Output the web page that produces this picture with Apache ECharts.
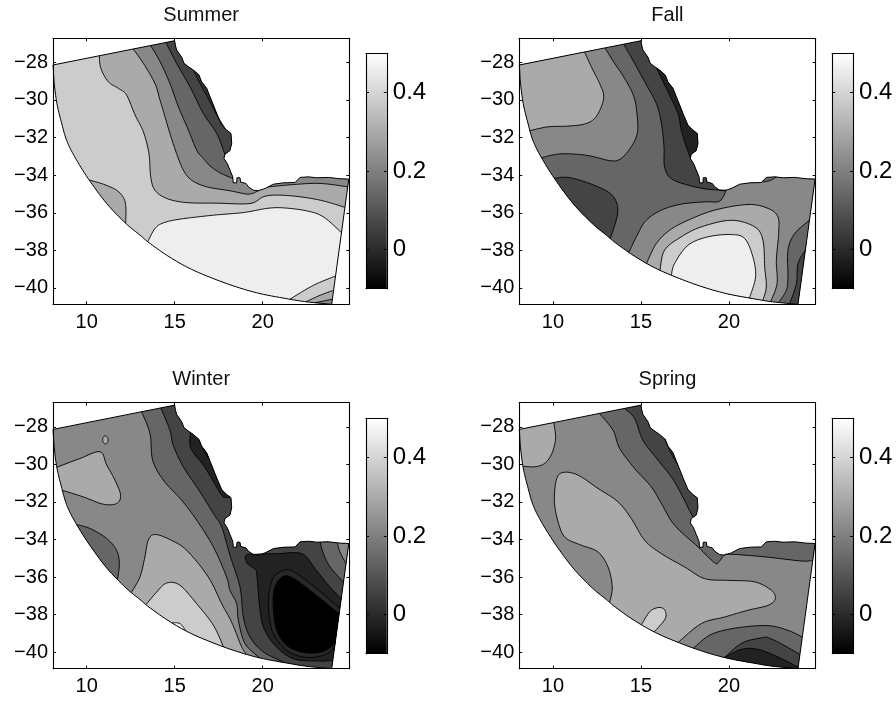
<!DOCTYPE html>
<html><head><meta charset="utf-8">
<style>html,body{margin:0;padding:0;background:#fff}#c{width:896px;height:703px}</style>
<script src="https://cdn.jsdelivr.net/npm/echarts@6/dist/echarts.min.js"></script>
</head><body><div id="c"></div>
<script>
// Domain outline, clockwise from the NW corner [lon, lat]: north edge + coast, then the offshore arc
const coast = [[8.09,-28.14],[15.00,-26.85],[15.04,-27.08],[15.11,-27.34],[15.40,-27.73],[15.53,-28.05],[15.78,-28.23],[16.06,-28.41],[16.38,-28.67],[16.53,-29.03],[16.82,-29.38],[17.01,-29.83],[17.20,-30.27],[17.39,-30.72],[17.67,-31.34],[17.95,-31.60],[18.20,-31.78],[18.24,-32.31],[18.14,-32.70],[17.86,-32.88],[17.80,-33.11],[17.99,-33.38],[18.14,-33.73],[18.30,-34.09],[18.33,-34.41],[18.52,-34.41],[18.54,-34.14],[18.71,-34.14],[18.75,-34.37],[19.05,-34.44],[19.19,-34.62],[19.47,-34.80],[19.75,-34.83],[20.13,-34.71],[20.61,-34.48],[21.17,-34.41],[21.84,-34.39],[22.12,-34.12],[22.60,-34.09],[23.07,-34.14],[23.73,-34.12],[24.39,-34.19],[24.89,-34.21]];
const arc = [[23.92,-40.87],[22.50,-40.74],[21.55,-40.60],[19.85,-40.30],[18.33,-39.89],[16.82,-39.36],[15.68,-38.88],[14.55,-38.26],[13.54,-37.59],[13.03,-37.19],[12.23,-36.57],[11.14,-35.51],[10.09,-34.18],[9.32,-33.02],[8.86,-32.14],[8.56,-31.16],[8.31,-30.18],[8.16,-29.12],[8.11,-28.41]];

const xTicks = [10,15,20];
const yTicks = [-28,-30,-32,-34,-36,-38,-40];
const barTicks = [0,0.2,0.4];
const barRange = [-0.1,0.5];
const lonRange = [8.09,24.92];
const latRange = [-40.87,-26.72];
const titles = ['Summer','Fall','Winter','Spring'];

// Each band: [contour value of the fill, contour line in lon/lat, closed?]
const summerBase = 0.38;
const summerBands = [
 [0.30,[[10.19,-34.23],[10.95,-34.48],[11.70,-34.80],[12.12,-35.24],[12.23,-35.77],[12.23,-36.54]]],
 [0.46,[[13.50,-37.50],[13.88,-36.84],[14.36,-36.54],[15.30,-36.34],[17.20,-36.13],[18.90,-35.99],[20.23,-35.77],[21.17,-35.74],[22.50,-35.90],[23.45,-36.22],[24.43,-37.05]]],
 [0.38,[[21.55,-40.57],[22.88,-39.86],[24.11,-39.36]]],
 [0.30,[[22.46,-40.71],[23.26,-40.39],[24.02,-40.12]]],
 [0.22,[[22.97,-40.80],[23.96,-40.60]]],
 [0.30,[[24.70,-35.72],[23.45,-35.37],[22.12,-35.15],[20.80,-35.06],[20.04,-35.15],[19.28,-35.51],[17.39,-35.49],[15.68,-35.46],[14.55,-35.24],[13.88,-34.80],[13.64,-34.09],[13.54,-32.85],[13.22,-31.69],[12.75,-30.80],[12.27,-29.74],[11.80,-29.38],[11.23,-29.03],[10.81,-28.32],[10.72,-27.66]]],
 [0.22,[[19.75,-34.80],[19.19,-35.01],[18.14,-34.83],[16.82,-34.62],[15.97,-34.27],[15.49,-33.73],[15.11,-32.85],[14.73,-31.78],[14.45,-30.89],[14.17,-30.01],[13.88,-29.12],[13.22,-28.05],[12.65,-27.31]]],
 [0.22,[[24.83,-34.62],[23.26,-34.44],[21.74,-34.50],[20.32,-34.66]]],
 [0.14,[[18.30,-34.18],[17.58,-33.88],[17.01,-33.51],[16.63,-33.11],[16.25,-32.67],[15.78,-31.60],[15.21,-30.36],[14.73,-29.12],[14.17,-27.96],[13.64,-27.13]]],
 [0.06,[[17.77,-32.88],[17.39,-31.78],[16.63,-30.72],[15.87,-29.30],[15.11,-28.05],[14.51,-26.99]]],
 [0.02,[[17.86,-31.55],[17.39,-30.80],[16.91,-29.92],[16.44,-29.12],[16.06,-28.46]]]
];

const fallBase = 0.14;
const fallBands = [
 [0.22,[[12.97,-27.31],[13.50,-28.05],[14.07,-28.85],[14.60,-29.83],[14.79,-30.89],[14.79,-31.78],[14.45,-32.49],[13.88,-33.11],[13.31,-33.24],[12.18,-32.99],[11.23,-32.88],[10.28,-32.88],[9.49,-32.99]]],
 [0.30,[[11.80,-27.49],[12.18,-28.23],[12.65,-29.12],[12.88,-29.74],[12.75,-30.36],[12.37,-30.98],[11.80,-31.28],[10.85,-31.39],[9.72,-31.43],[8.81,-31.60]]],
 [0.06,[[10.19,-34.09],[10.85,-34.12],[11.99,-34.41],[13.13,-34.89],[13.60,-35.42],[13.66,-36.13],[13.31,-37.32]]],
 [0.06,[[19.85,-34.80],[18.81,-34.75],[17.67,-34.53],[16.72,-34.18],[16.34,-33.56],[16.31,-32.49],[16.16,-31.25],[15.87,-30.18],[15.21,-29.03],[14.64,-28.05],[14.03,-27.08]]],
 [-0.02,[[17.82,-33.17],[17.58,-32.49],[17.29,-31.60],[17.10,-30.72],[16.53,-29.56],[15.87,-28.32]]],
 [0.22,[[14.36,-38.03],[14.83,-37.11],[15.30,-36.40],[16.16,-35.86],[17.29,-35.54],[18.62,-35.42],[19.47,-35.38],[19.85,-34.83]]],
 [0.14,[[22.69,-34.12],[22.31,-34.30],[21.88,-34.39]]],
 [0.30,[[15.36,-38.61],[15.87,-37.64],[16.63,-36.93],[17.67,-36.40],[19.19,-35.86],[21.08,-35.56],[22.22,-35.77],[22.78,-36.22],[22.82,-37.11],[22.69,-38.53],[22.73,-39.77],[22.37,-40.69]]],
 [0.38,[[16.16,-38.88],[16.34,-37.99],[17.29,-37.28],[18.43,-36.75],[20.13,-36.40],[21.46,-36.75],[21.93,-37.46],[22.03,-38.88],[22.12,-39.95],[21.93,-40.60]]],
 [0.46,[[16.76,-39.24],[16.91,-38.70],[17.67,-37.73],[18.81,-37.28],[20.13,-37.16],[20.89,-37.37],[21.36,-38.35],[21.51,-39.41],[21.17,-40.48]]],
 [0.14,[[22.82,-40.78],[23.26,-40.12],[23.35,-39.41],[23.35,-37.99],[23.73,-37.11],[24.58,-36.40]]],
 [0.06,[[23.45,-40.85],[23.83,-39.77],[23.92,-38.70],[24.26,-37.99]]]
];

const winterBase = 0.22;
const winterBands = [
 [0.30,[[8.45,-30.13],[9.62,-29.69],[10.76,-29.33],[11.14,-30.04],[11.61,-30.84],[11.93,-31.64],[11.70,-32.08],[10.95,-32.12],[9.81,-31.73],[8.67,-31.37]]],
 [0.30,[[11.06,-28.48],[11.21,-28.62],[11.19,-28.82],[11.06,-28.92],[10.93,-28.80],[10.93,-28.59]],true],
 [0.14,[[9.47,-33.18],[10.19,-33.41],[11.14,-33.94],[11.70,-34.57],[11.86,-35.28],[11.86,-36.02]]],
 [0.30,[[12.56,-36.79],[13.03,-35.99],[13.31,-34.92],[13.50,-34.04],[13.88,-33.73],[14.73,-34.00],[15.68,-34.57],[16.91,-35.99],[17.67,-37.41],[18.14,-38.21],[18.43,-38.83],[18.81,-39.72],[19.09,-40.07]]],
 [0.38,[[13.41,-37.41],[13.98,-36.79],[14.55,-36.31],[15.30,-36.43],[16.25,-37.41],[17.20,-38.56],[17.80,-39.63]]],
 [0.46,[[14.89,-38.33],[15.30,-38.47],[15.68,-38.79]]],
 [0.14,[[19.85,-40.25],[19.00,-39.54],[18.62,-38.30],[18.52,-37.41],[18.14,-36.70],[17.95,-35.99],[17.20,-34.39],[16.25,-32.97],[15.40,-31.91],[14.36,-30.84],[13.75,-29.78],[13.60,-28.36],[13.13,-27.25]]],
 [0.06,[[21.27,-40.51],[20.04,-39.98],[19.28,-39.18],[18.90,-38.12],[18.71,-36.52],[18.14,-34.83],[17.67,-33.33],[17.20,-32.62],[16.44,-31.46],[15.49,-30.13],[14.92,-28.98],[14.73,-28.18],[14.22,-27.02]]],
 [0.14,[[24.49,-36.25],[23.83,-35.46],[23.45,-34.75],[23.26,-34.12]]],
 [0.22,[[24.70,-35.28],[24.39,-34.66],[24.24,-34.18]]],
 [-0.02,[[18.11,-31.82],[17.77,-31.73],[17.48,-31.37],[17.10,-30.75],[16.63,-30.04],[16.10,-29.42],[15.87,-28.98],[15.81,-28.44]]],
 [-0.1,[[16.95,-29.74],[16.78,-29.46],[16.59,-29.15]]],
 [-0.02,[[23.92,-40.43],[23.07,-40.46],[21.74,-40.34],[20.70,-39.63],[20.04,-38.65],[19.81,-37.41],[19.66,-35.81],[19.51,-35.54],[19.13,-35.28],[19.05,-34.83],[19.66,-34.78],[20.80,-34.75],[22.22,-34.75],[22.97,-35.54],[23.73,-36.43],[24.43,-37.14]]],
 [-0.005,[[24.11,-39.54],[23.92,-39.89],[23.26,-40.21],[22.31,-40.25],[21.36,-39.89],[20.61,-39.01],[20.38,-38.12],[20.32,-37.32],[20.42,-36.52],[20.70,-35.90],[21.36,-35.60],[21.93,-35.81],[23.07,-36.61],[24.39,-37.67]]],
 [-0.1,[[24.07,-39.50],[23.83,-39.75],[23.26,-40.00],[22.31,-40.00],[21.36,-39.63],[20.80,-38.83],[20.61,-37.76],[20.64,-36.70],[20.99,-36.08],[21.46,-35.95],[22.31,-36.43],[24.30,-37.94]]]
];

const springBase = 0.22;
const springBands = [
 [0.30,[[10.06,-27.82],[10.15,-28.62],[9.94,-29.42],[9.53,-29.95],[8.96,-30.13],[8.39,-30.08]]],
 [0.30,[[13.22,-37.35],[13.37,-36.52],[13.13,-35.46],[12.56,-34.66],[11.61,-34.30],[10.76,-33.94],[10.38,-33.33],[10.09,-32.08],[10.19,-30.84],[10.57,-30.43],[11.42,-30.57],[12.56,-31.28],[13.69,-31.99],[14.45,-32.88],[15.21,-34.04],[16.16,-34.75],[17.48,-35.46],[18.62,-36.08],[19.94,-36.17],[21.46,-36.25],[22.41,-36.70],[22.63,-37.14],[22.22,-37.50],[21.08,-37.76],[19.75,-38.12],[18.43,-38.47],[17.14,-39.40]]],
 [0.38,[[15.11,-38.38],[15.49,-37.85],[15.97,-37.62],[16.34,-37.73],[16.38,-38.21],[15.81,-38.79]]],
 [0.14,[[24.72,-35.10],[24.11,-35.14],[22.03,-34.92],[20.13,-34.78],[19.72,-34.83],[19.47,-35.14],[19.19,-35.24],[18.24,-34.39],[16.91,-33.24],[16.16,-32.08],[15.59,-31.20],[14.64,-30.22],[13.79,-29.15],[13.41,-28.18],[12.65,-27.34]]],
 [0.06,[[17.82,-32.61],[16.91,-30.93],[15.97,-29.78],[15.11,-28.71],[14.64,-27.56],[14.07,-27.08]]],
 [0.02,[[17.14,-30.04],[16.72,-29.42],[16.31,-28.70]]],
 [0.14,[[18.01,-39.68],[19.00,-39.04],[20.51,-38.69],[22.22,-38.58],[23.35,-38.83],[24.11,-39.18]]],
 [0.06,[[19.81,-39.98],[20.75,-39.50],[21.89,-39.22],[22.22,-39.22],[22.97,-39.54],[23.98,-40.11]]],
 [-0.02,[[19.75,-40.21],[20.70,-39.84],[21.65,-39.84],[22.78,-40.25],[23.88,-40.78]]]
];

const panels = [
 {base:summerBase, bands:summerBands, grid:[53,38.3], bar:[366,53.3]},
 {base:fallBase, bands:fallBands, grid:[519.3,38.3], bar:[832.3,53.3]},
 {base:winterBase, bands:winterBands, grid:[53,402.7], bar:[366,418.3]},
 {base:springBase, bands:springBands, grid:[519.3,402.7], bar:[832.3,418.3]}
];

const FONT = '"Liberation Sans", Arial, sans-serif';
function gray(v){
  const g = Math.round(255*Math.max(0,Math.min(1,(v-barRange[0])/(barRange[1]-barRange[0]))));
  return 'rgb('+g+','+g+','+g+')';
}
// drawing-only curve smoothing of a read outline (same as a library "smooth" line)
function smooth(pts,closed){
  if(pts.length<3) return pts.slice();
  const out=[], n=pts.length, get=i=> closed?pts[(i+n)%n]:pts[Math.max(0,Math.min(n-1,i))];
  const last=closed?n:n-1;
  for(let i=0;i<last;i++){
    const p0=get(i-1),p1=get(i),p2=get(i+1),p3=get(i+2);
    for(let k=0;k<8;k++){
      const t=k/8,t2=t*t,t3=t2*t;
      out.push([0,1].map(c=>0.5*(2*p1[c]+(p2[c]-p0[c])*t+(2*p0[c]-5*p1[c]+4*p2[c]-p3[c])*t2+(3*p1[c]-p0[c]-3*p2[c]+p3[c])*t3)));
    }
  }
  if(!closed) out.push(pts[n-1]);
  return out;
}
const domain = coast.concat(smooth(arc,false));
// locate a point on the outline: segment index, param, snapped point
function locate(p){
  let best=null, n=domain.length;
  for(let i=0;i<n;i++){
    const a=domain[i], b=domain[(i+1)%n];
    const dx=b[0]-a[0], dy=b[1]-a[1];
    let t=((p[0]-a[0])*dx+(p[1]-a[1])*dy)/(dx*dx+dy*dy);
    t=Math.max(0,Math.min(1,t));
    const q=[a[0]+t*dx,a[1]+t*dy];
    const d=(q[0]-p[0])**2+(q[1]-p[1])**2;
    if(!best||d<best.d) best={d,i,t,q};
  }
  return best;
}
function bandPath(line,closed){
  if(closed){ const s=smooth(line,true); return {fill:s,stroke:s.concat([s[0]])}; }
  const S=locate(line[0]), E=locate(line[line.length-1]);
  const l=line.slice(); l[0]=S.q; l[l.length-1]=E.q;
  const s=smooth(l,false), fill=s.slice(), n=domain.length;
  if(!(S.i===E.i && S.t>=E.t)){
    let i=(E.i+1)%n, stop=(S.i+1)%n, guard=0;
    do{ fill.push(domain[i]); i=(i+1)%n; guard++; }while(i!==stop && guard<=n);
  }
  return {fill,stroke:s};
}

const grid=[], xAxis=[], yAxis=[], series=[], title=[];
const W=296.3,H=266,BW=20.8,BH=235.4;
function addAxes(idx,xr,yr,xt,yt,showLabels,barMode){
  const lineS={show:true,onZero:false,lineStyle:{color:'#000',width:1.1}};
  const mk=(pos,min,max,ticks,label,size,margin)=>({type:'value',gridIndex:idx,position:pos,min,max,z:10,
    axisLine:lineS,splitLine:{show:false},
    axisTick:{show:ticks.length>0,inside:true,length:3,lineStyle:{color:'#000',width:1},customValues:ticks},
    axisLabel:label?{show:true,customValues:ticks,color:'#000',fontFamily:FONT,fontSize:size,margin,
      formatter:v=>String(v).replace('-','\u2212')}:{show:false}});
  const x0=xAxis.length,y0=yAxis.length;
  xAxis.push(mk('bottom',xr[0],xr[1],xt,showLabels&&!barMode,20,8));
  xAxis.push(mk('top',xr[0],xr[1],xt,false));
  yAxis.push(mk('left',yr[0],yr[1],yt,showLabels&&!barMode,20,5));
  yAxis.push(mk('right',yr[0],yr[1],yt,barMode,24,6));
  return [x0,y0];
}
panels.forEach((p,pi)=>{
  grid.push({left:p.grid[0],top:p.grid[1],width:W,height:H});
  const [xi,yi]=addAxes(grid.length-1,lonRange,latRange,xTicks,yTicks,true,false);
  title.push({text:titles[pi],left:p.grid[0]+W/2,top:p.grid[1]-33,textAlign:'center',padding:0,
    textStyle:{fontFamily:FONT,fontSize:20,fontWeight:'normal',color:'#111'}});
  const items=[{level:p.base,line:domain,base:true}].concat(p.bands.map(b=>({level:b[0],line:b[1],closed:!!b[2]}))).concat([{outline:true,line:domain}]);
  series.push({type:'custom',xAxisIndex:xi,yAxisIndex:yi,coordinateSystem:'cartesian2d',clip:false,silent:true,
    data:items.map(it=>it.line[0]),
    renderItem:(params,api)=>{
      const it=items[params.dataIndex], cv=a=>a.map(q=>api.coord(q));
      if(it.base) return {type:'polygon',shape:{points:cv(domain)},style:{fill:gray(it.level)}};
      if(it.outline) return {type:'polygon',shape:{points:cv(domain)},style:{fill:'none',stroke:'#000',lineWidth:1}};
      const path=bandPath(it.line,it.closed);
      return {type:'group',children:[
        {type:'polygon',shape:{points:cv(path.fill)},style:{fill:gray(it.level)}},
        {type:'polyline',shape:{points:cv(path.stroke)},style:{fill:'none',stroke:'#000',lineWidth:0.9}}
      ]};
    }});
  // colour bar
  grid.push({left:p.bar[0],top:p.bar[1],width:BW,height:BH});
  const [bx,by]=addAxes(grid.length-1,[0,1],barRange,[],barTicks,true,true);
  series.push({type:'custom',xAxisIndex:bx,yAxisIndex:by,coordinateSystem:'cartesian2d',silent:true,
    data:[[0,barRange[0],1,barRange[1]]],
    renderItem:(params,api)=>{
      const a=api.coord([api.value(0),api.value(1)]), b=api.coord([api.value(2),api.value(3)]);
      return {type:'rect',shape:{x:a[0],y:b[1],width:b[0]-a[0],height:a[1]-b[1]},
        style:{fill:new echarts.graphic.LinearGradient(0,1,0,0,[{offset:0,color:gray(barRange[0])},{offset:1,color:gray(barRange[1])}])}};
    }});
});
const chart=echarts.init(document.getElementById('c'),null,{renderer:'canvas'});
chart.setOption({animation:false,backgroundColor:'#fff',title,grid,xAxis,yAxis,series});
</script></body></html>
